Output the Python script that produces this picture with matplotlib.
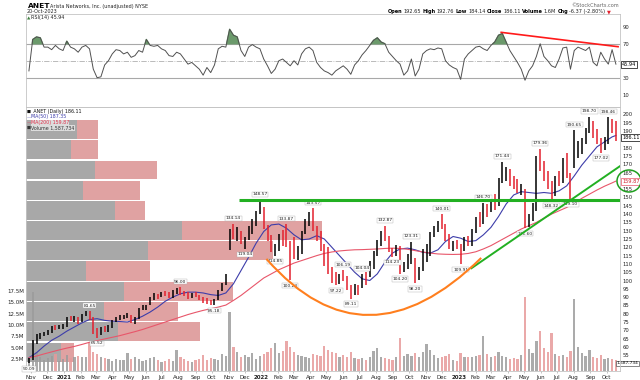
import numpy as np
import pandas as pd
import matplotlib
matplotlib.use("Agg")
import matplotlib.pyplot as plt
import matplotlib.dates as mdates
from matplotlib.path import Path
from matplotlib.patches import PathPatch, Ellipse

plt.rcParams["font.family"] = "DejaVu Sans"

# weekly bars (week ending friday)
weeks = pd.date_range("2020-10-30", "2023-10-20", freq="W-FRI")

high = [53.5, 64.0, 67.5, 68.5, 69.0, 70.0, 72.5, 73.5, 73.0,
        74.0, 78.0, 78.5, 78.5, 78.0, 80.0, 81.5, 81.65, 78.0, 71.5, 72.0, 72.5, 73.0,
        76.0, 78.0, 79.0, 79.5, 80.5, 79.5, 78.0, 83.5, 85.0, 85.5, 90.0, 92.5, 92.0,
        93.0, 93.5, 93.0, 94.0, 95.5, 96.00, 93.5, 93.0, 92.5, 93.0, 91.5, 90.0, 89.5,
        88.0, 89.0, 94.5, 98.5, 104.0, 131.0, 134.14, 132.0, 130.0, 126.0, 133.0, 137.0, 142.0, 148.57,
        144.0, 133.5, 127.5, 122.0, 128.0, 130.5, 133.87, 124.0, 126.0, 121.0, 130.0, 137.0,
        141.0, 143.57, 133.0, 130.0, 122.0, 120.0, 108.0, 105.0, 104.0, 106.19, 103.0, 97.0, 98.0,
        97.5, 104.04, 105.0, 112.0, 118.0, 124.5, 130.0, 132.87, 127.0, 119.5, 121.5, 121.0, 111.0, 116.0,
        123.31, 113.5, 108.0, 119.0, 122.0, 129.0, 133.0, 136.0, 140.01, 134.0, 128.0, 124.0, 124.5,
        122.0, 126.0, 127.0, 131.0, 138.0, 141.0, 146.7, 146.0, 149.5, 152.0, 162.0, 171.44, 168.5,
        167.0, 163.0, 161.0, 158.0, 155.0, 140.0, 146.5, 175.0, 179.36, 172.0, 166.0, 160.0, 163.0,
        166.0, 174.0, 176.5, 165.0, 190.65, 184.0, 186.0, 192.0, 198.70, 196.0, 191.0, 186.0, 186.5,
        198.46, 197.5, 196.0]
low = [50.09, 52.0, 61.5, 65.0, 66.5, 67.0, 68.5, 70.0, 70.5,
       71.0, 72.0, 75.5, 75.0, 74.0, 75.0, 78.5, 76.5, 67.5, 65.52, 67.0, 69.0, 69.0,
       71.5, 75.0, 76.5, 77.0, 77.5, 74.5, 74.0, 77.0, 82.0, 82.5, 85.0, 88.0, 89.0,
       90.0, 90.5, 89.5, 89.5, 92.0, 91.5, 90.5, 89.0, 89.5, 90.0, 88.0, 86.5, 86.0,
       85.5, 85.18, 88.0, 93.5, 97.0, 118.5, 125.0, 124.0, 122.0, 119.04, 124.5, 128.0, 133.0, 140.0,
       131.0, 124.0, 117.0, 114.85, 118.0, 121.0, 120.0, 100.23, 113.0, 112.5, 116.0, 128.0,
       133.0, 130.0, 124.0, 118.0, 109.0, 104.0, 98.5, 97.22, 98.0, 100.0, 94.0, 89.11, 91.0,
       91.5, 95.5, 97.5, 102.0, 107.0, 114.5, 121.0, 124.0, 117.0, 114.23, 114.5, 104.20, 105.0, 107.0,
       110.0, 98.20, 100.5, 106.0, 111.0, 115.0, 126.0, 129.5, 131.0, 124.0, 119.0, 118.0, 119.0,
       109.91, 118.0, 120.5, 121.0, 128.5, 132.0, 134.0, 138.0, 141.0, 142.5, 145.0, 159.0, 160.0,
       157.0, 155.0, 153.0, 151.5, 131.60, 132.5, 136.0, 142.0, 166.0, 160.0, 155.0, 148.32, 151.0,
       157.0, 159.0, 162.0, 149.10, 168.0, 174.0, 176.0, 182.0, 189.0, 186.0, 182.0, 177.02, 178.5,
       182.5, 189.0, 184.14]
close = [52.5, 62.5, 66.0, 67.5, 68.0, 69.0, 72.0, 71.0, 72.5,
         72.5, 77.5, 76.5, 77.0, 75.0, 79.5, 80.5, 77.5, 70.0, 68.5, 70.5, 70.0, 72.0,
         75.5, 77.5, 78.0, 78.5, 79.0, 75.5, 77.0, 83.0, 84.0, 85.0, 89.5, 91.0, 90.5,
         92.0, 91.5, 90.0, 93.5, 94.5, 92.0, 91.5, 90.0, 92.0, 90.5, 88.5, 88.0, 87.0,
         86.5, 88.5, 94.0, 97.5, 103.5, 129.0, 127.0, 128.0, 123.0, 125.0, 132.0, 134.0, 141.5, 143.5,
         132.0, 126.0, 118.0, 120.5, 126.0, 123.0, 122.0, 121.5, 116.0, 116.5, 129.0, 135.5,
         139.5, 131.5, 125.0, 119.0, 115.5, 106.0, 104.5, 99.0, 103.5, 101.5, 95.0, 93.0, 97.5,
         94.0, 103.0, 102.5, 110.0, 116.5, 123.0, 128.5, 126.0, 117.5, 116.0, 120.0, 107.0, 109.0, 112.0,
         113.0, 102.0, 107.0, 118.0, 118.0, 127.5, 131.0, 135.0, 133.0, 126.0, 121.0, 122.0, 121.5,
         119.0, 124.5, 122.0, 129.5, 136.0, 134.5, 145.0, 141.0, 148.0, 145.5, 160.5, 165.0, 167.0,
         159.0, 158.5, 154.5, 157.0, 134.0, 138.5, 144.5, 172.0, 168.5, 163.0, 157.0, 150.5, 162.0,
         160.0, 172.0, 164.0, 155.0, 178.0, 181.0, 184.0, 190.0, 194.0, 188.0, 184.0, 181.0, 183.8,
         194.5, 193.2, 186.11]
volume = [3.0, 17.3, 4.2, 3.0, 2.4, 2.8, 3.2, 3.6, 2.2,
          2.6, 3.4, 2.8, 3.0, 3.2, 2.9, 3.1, 6.2, 4.0, 3.6, 3.0, 2.7, 2.5,
          2.2, 2.6, 2.4, 2.3, 3.8, 2.6, 2.9, 2.5, 2.2, 2.4, 2.7, 3.0, 2.3,
          2.0, 2.2, 2.6, 2.1, 4.6, 3.0, 2.5, 2.2, 2.0, 2.3, 2.6, 3.4, 2.4,
          2.8, 2.5, 2.3, 3.6, 3.2, 12.9, 5.2, 4.0, 3.1, 3.4, 3.0, 3.8, 2.6, 3.2,
          3.6, 4.2, 5.0, 6.0, 3.8, 4.4, 6.5, 5.2, 4.0, 3.5, 3.3, 3.0,
          2.8, 3.6, 3.4, 3.2, 5.5, 4.6, 4.2, 3.8, 3.0, 3.4, 3.1, 4.2, 2.8,
          2.5, 2.7, 2.4, 2.9, 4.3, 5.0, 3.1, 2.8, 2.6, 2.4, 3.0, 7.1, 3.2, 3.6,
          3.3, 3.8, 3.0, 4.0, 5.8, 4.6, 3.4, 2.8, 3.0, 3.3, 3.6, 2.4, 2.2,
          3.8, 2.9, 3.1, 3.0, 3.2, 3.4, 7.5, 3.6, 3.0, 3.2, 4.2, 3.3, 3.0,
          2.6, 2.8, 2.5, 3.4, 16.2, 4.8, 3.9, 6.5, 8.6, 5.0, 4.2, 8.3, 3.6,
          3.2, 3.4, 3.0, 4.4, 15.8, 5.2, 3.8, 3.2, 4.5, 3.0, 2.8, 3.4, 2.6,
          2.8, 2.6, 2.4]
rsi = [38, 75, 78, 77, 66, 66, 63, 68, 64,
       62, 73, 66, 64, 60, 66, 68, 64, 40, 30, 31, 45, 50,
       58, 63, 62, 58, 60, 54, 56, 62, 60, 75, 68, 67, 68,
       64, 62, 56, 55, 60, 58, 52, 46, 48, 44, 40, 33, 42,
       36, 45, 64, 67, 66, 87, 80, 78, 62, 55, 66, 69, 66, 64,
       52, 44, 35, 40, 50, 52, 48, 44, 50, 45, 58, 64,
       66, 62, 48, 42, 38, 36, 33, 38, 41, 44, 40, 34, 45,
       50, 57, 62, 68, 74, 77, 72, 70, 60, 55, 50, 46, 33, 38,
       52, 32, 40, 58, 62, 64, 63, 65, 64, 50, 45, 42, 40,
       28, 52, 58, 62, 66, 67, 64, 62, 68, 72, 80, 82, 72,
       62, 55, 48, 40, 27, 38, 44, 55, 70, 55, 50, 44, 42,
       52, 65, 66, 40, 62, 66, 64, 62, 66, 48, 44, 60, 52,
       46, 63, 45.94]

# moving averages, read every other week (plus the last bar)
ma_dates = list(weeks[::2]) + [weeks[-1]]
ma50 = [53.5, 56.5, 60.5, 64.0, 66.5,
        69.5, 72.0, 74.5, 76.5, 77.0, 76.0, 75.5, 75.3, 75.0, 76.5, 78.5, 81.0, 84.0,
        87.5, 90.0, 92.0, 93.0, 93.0, 92.5, 91.5, 91.0, 92.5, 98.0, 106.0, 114.0, 122.5,
        129.5, 133.5, 134.0, 131.5, 127.5, 124.5, 125.0, 127.0, 125.0, 120.0, 115.0, 110.0, 105.0,
        101.0, 100.0, 104.0, 111.0, 116.5, 119.0, 119.5, 118.5, 117.0, 116.5, 118.5, 123.5, 126.5,
        125.5, 123.5, 124.0, 127.5, 132.0, 138.5, 146.0, 151.5, 153.5, 153.0, 152.5, 153.0, 152.5,
        154.0, 157.0, 163.0, 169.5, 175.0, 180.5, 183.5, 186.5, 187.35]
ma200 = [53.5, 54.5, 55.8, 57.0, 58.2,
         59.3, 60.3, 61.5, 62.8, 63.8, 64.8, 65.8, 66.8, 68.0, 69.2, 70.5, 72.0, 73.5,
         75.0, 76.5, 78.0, 79.5, 80.8, 82.0, 83.0, 84.0, 85.2, 88.0, 91.0, 94.5, 98.0,
         101.5, 104.0, 106.5, 108.5, 110.5, 112.0, 113.5, 115.0, 116.3, 117.2, 117.8, 118.2, 118.5,
         118.6, 118.8, 119.0, 119.3, 119.5, 119.3, 118.8, 118.0, 117.2, 116.5, 116.0, 115.8, 115.7,
         115.8, 116.3, 117.3, 119.0, 121.0, 123.5, 126.0, 128.5, 131.0, 133.0, 135.0, 137.5, 140.0,
         142.0, 144.0, 146.5, 149.5, 152.0, 154.5, 156.8, 158.8, 159.87]

# volume by price (12 zones, bottom to top), up / down volume
vbp_edges = [50.6, 63.0, 75.4, 87.4, 99.6, 112.0, 124.2, 136.3, 148.4, 160.5, 172.6, 184.7, 196.8]
vbp_up = [42, 110, 94, 118, 72, 146, 187, 107, 69, 83, 54, 61]
vbp_down = [16, 99, 89, 130, 77, 151, 168, 36, 68, 74, 33, 26]

# labelled highs / lows (week, kind)
label_weeks = ["2020-10-30", "2021-02-19", "2021-03-05", "2021-08-06", "2021-10-08",
               "2021-11-12", "2021-12-03", "2021-12-31", "2022-01-28", "2022-02-18",
               "2022-02-25", "2022-04-08", "2022-05-20", "2022-06-03", "2022-06-17",
               "2022-07-08", "2022-08-19", "2022-09-02", "2022-09-16", "2022-10-07",
               "2022-10-14", "2022-12-02", "2023-01-06", "2023-02-17", "2023-03-24",
               "2023-05-05", "2023-06-02", "2023-06-23", "2023-07-28", "2023-08-04",
               "2023-09-01", "2023-09-22", "2023-10-06"]
label_kind = ["l", "h", "l", "h", "l", "h", "l", "h", "l", "h", "l", "h", "l", "h", "l",
              "h", "h", "l", "l", "h", "l", "h", "l", "h", "h", "l", "h", "l", "l", "h",
              "h", "l", "h"]

# chart notes drawn by the analyst
support_dates, support_vals = ["2021-11-21", "2023-10-27"], [148.6, 148.6]
trend_dates, trend_vals = ["2023-01-24", "2023-10-27"], [107.4, 169.2]
cup_dates, cup_vals = ["2022-01-10", "2022-07-12", "2023-02-11"], [113.0, 45.1, 113.6]
rsi_line_dates, rsi_line_vals = ["2023-03-20", "2023-10-22"], [83.4, 66.5]

high, low, close = np.array(high), np.array(low), np.array(close)
volume, rsi = np.array(volume), np.array(rsi, dtype=float)

# ---- layout (pixel positions of the original) ----
W, H = 640, 380
fig = plt.figure(figsize=(W / 100, H / 100), dpi=100)


def fx(px):
    return px / W


def fy(py):
    return 1 - py / H


LEFT, RIGHT, TOP, SPLIT, BOTTOM = 26, 620, 14, 107, 371
ax_rsi = fig.add_axes([fx(LEFT), fy(SPLIT), (RIGHT - LEFT) / W, (SPLIT - TOP) / H])
rect = [fx(LEFT), fy(BOTTOM), (RIGHT - LEFT) / W, (BOTTOM - SPLIT) / H]
ax_vbp = fig.add_axes(rect)
ax_vol = fig.add_axes(rect)
ax_px = fig.add_axes(rect)
ax_vol.patch.set_alpha(0)
ax_px.patch.set_alpha(0)

x0 = mdates.date2num(pd.Timestamp("2020-10-22 14:00"))
x1 = mdates.date2num(pd.Timestamp("2023-10-25 14:00"))
xw = mdates.date2num(weeks) - 2  # centre of the week
ma_x = mdates.date2num(pd.DatetimeIndex(ma_dates)) - 2
PLO, PHI = 45.5, 204.5

# volume by price
edges = np.array(vbp_edges)
mid = (edges[:-1] + edges[1:]) / 2
hgt = np.diff(edges) - 0.7
ax_vbp.barh(mid, vbp_up, height=hgt, color="#a8a8a8", linewidth=0)
ax_vbp.barh(mid, vbp_down, height=hgt, left=vbp_up, color="#e0a2a2", linewidth=0)
ax_vbp.set_xlim(0, 713)
ax_vbp.set_ylim(PLO, PHI)
ax_vbp.axis("off")

# volume
up = np.r_[True, close[1:] >= close[:-1]]
ax_vol.bar(xw, volume, width=4.2, color=np.where(up, "#9c9c9c", "#e79a9a"),
           alpha=0.85, linewidth=0)
ax_vol.set_xlim(x0, x1)
ax_vol.set_ylim(-0.07, 57.8)
ax_vol.set_yticks([2.5, 5, 7.5, 10, 12.5, 15, 17.5])
ax_vol.set_yticklabels(["2.5M", "5.0M", "7.5M", "10.0M", "12.5M", "15.0M", "17.5M"])
ax_vol.tick_params(axis="y", labelsize=4, length=0, pad=1.5, labelcolor="#222222")
ax_vol.xaxis.set_visible(False)
for s in ax_vol.spines.values():
    s.set_visible(False)

# price bars and averages
ax_px.vlines(xw[up], low[up], high[up], color="black", lw=1.1, zorder=4)
ax_px.vlines(xw[~up], low[~up], high[~up], color="#e3202d", lw=1.1, zorder=4)
ax_px.plot(ma_x, ma50, color="#3d3daa", lw=0.8, zorder=3)
ax_px.plot(ma_x, ma200, color="#e8566a", lw=0.8, zorder=3)

# high / low labels
week_idx = {d: i for i, d in enumerate(weeks.strftime("%Y-%m-%d"))}
for d, k in zip(label_weeks, label_kind):
    i = week_idx[d]
    v = high[i] if k == "h" else low[i]
    ax_px.annotate(f"{v:.2f}", (xw[i], v), xytext=(0, 2.5 if k == "h" else -2.5),
                   textcoords="offset points", ha="center",
                   va="bottom" if k == "h" else "top", fontsize=3.2, color="#222222",
                   bbox=dict(boxstyle="square,pad=0.15", fc="white", ec="#b0b0b0", lw=0.3),
                   zorder=6, annotation_clip=False)

# analyst lines
ax_px.plot(pd.to_datetime(support_dates), support_vals, color="#22b022", lw=2.2, zorder=7,
           solid_capstyle="butt")
ax_px.plot(pd.to_datetime(trend_dates), trend_vals, color="#22b022", lw=1.4, zorder=7)
cup_x = mdates.date2num(pd.to_datetime(cup_dates))
cup = Path(list(zip(cup_x, cup_vals)), [Path.MOVETO, Path.CURVE3, Path.CURVE3])
ax_px.add_patch(PathPatch(cup, fill=False, ec="#ff7f1e", lw=1.5, zorder=7))

ax_px.set_xlim(x0, x1)
ax_px.set_ylim(PLO, PHI)
ax_px.yaxis.tick_right()
# 50, 160 and 185 sit under the value boxes in the original
price_ticks = [t for t in range(55, 201, 5) if t not in (160, 185)]
ax_px.set_yticks(price_ticks)
ax_px.tick_params(axis="y", labelsize=3.8, length=0, pad=2, labelcolor="#222222")
months = pd.date_range("2020-11-01", "2023-10-01", freq="MS")
ax_px.set_xticks(mdates.date2num(months))
ax_px.set_xticklabels([str(m.year) if m.month == 1 else m.strftime("%b") for m in months])
for lab, m in zip(ax_px.get_xticklabels(), months):
    if m.month == 1:
        lab.set_fontweight("bold")
ax_px.tick_params(axis="x", labelsize=4, length=1.5, width=0.4, color="#999999", pad=1.2,
                  labelcolor="#222222")
for s in ax_px.spines.values():
    s.set_color("#c4c4c4")
    s.set_linewidth(0.6)


# right-hand value boxes
def value_box(ax, txt, v, ec="black", col="black", size=3.6):
    ax.annotate(txt, xy=(1.0, v), xycoords=("axes fraction", "data"), xytext=(1.5, 0),
                textcoords="offset points", ha="left", va="center", fontsize=size, color=col,
                bbox=dict(boxstyle="square,pad=0.2", fc="white", ec=ec, lw=0.5),
                annotation_clip=False, zorder=8)


value_box(ax_px, "186.11", 186.11)
value_box(ax_px, "159.87", 159.87, ec="#e8566a", col="#d0202d")
ax_vol.annotate("1,587,734", xy=(fx(638.5), 1.587734), xycoords=("figure fraction", "data"),
                ha="right", va="center", fontsize=3.1, color="black",
                bbox=dict(boxstyle="square,pad=0.2", fc="white", ec="#555555", lw=0.5),
                annotation_clip=False, zorder=8)
fig.add_artist(Ellipse((fx(629), fy(181)), 24 / W, 22 / H, transform=fig.transFigure,
                       fill=False, ec="#1f9e1f", lw=1.1))

# RSI panel
ax_rsi.plot(xw, rsi, color="#505050", lw=0.7, zorder=3)
ax_rsi.fill_between(xw, rsi, 70, where=rsi > 70, interpolate=True, color="#6b9a6b", zorder=2)
ax_rsi.axhline(70, color="#a8a8a8", lw=0.8, zorder=1)
ax_rsi.axhline(30, color="#a8a8a8", lw=0.8, zorder=1)
ax_rsi.axhline(50, color="#b0b0b0", lw=0.6, ls="-.", zorder=1)
ax_rsi.plot(pd.to_datetime(rsi_line_dates), rsi_line_vals, color="#ff1a1a", lw=1.2, zorder=4)
ax_rsi.set_xlim(x0, x1)
ax_rsi.set_ylim(-4.5, 105)
ax_rsi.set_xticks([])
ax_rsi.yaxis.tick_right()
ax_rsi.set_yticks([10, 30, 70, 90])
ax_rsi.tick_params(axis="y", labelsize=3.8, length=0, pad=2, labelcolor="#222222")
for s in ax_rsi.spines.values():
    s.set_color("#c4c4c4")
    s.set_linewidth(0.6)
value_box(ax_rsi, "45.94", 45.94)

# header and legends
renderer = fig.canvas.get_renderer()


def seq_text(x, y, parts, size):
    for s, bold, col in parts:
        t = fig.text(fx(x), fy(y), s, fontsize=size, fontweight="bold" if bold else "normal",
                     color=col, va="baseline", ha="left")
        x += t.get_window_extent(renderer).width + 1.2


fig.text(fx(28), fy(8), "ANET", fontsize=5.4, fontweight="bold", va="baseline")
fig.text(fx(50), fy(8), "Arista Networks, Inc. (unadjusted) NYSE", fontsize=3.5,
         va="baseline", color="#222222")
fig.text(fx(26.5), fy(13), "20-Oct-2023", fontsize=3.5, va="baseline", color="#222222")
fig.text(fx(619), fy(7), "\u00a9StockCharts.com", fontsize=3.6, ha="right", va="baseline",
         color="#666666")
seq_text(388, 13.2, [("Open", True, "black"), ("192.65", False, "#222222"),
                     ("High", True, "black"), ("192.76", False, "#222222"),
                     ("Low", True, "black"), ("184.14", False, "#222222"),
                     ("Close", True, "black"), ("186.11", False, "#222222"),
                     ("Volume", True, "black"), ("1.6M", False, "#222222"),
                     ("Chg", True, "black"), ("-6.37 (-2.80%)", False, "#222222"),
                     ("\u25bc", False, "#e3202d")], 3.6)

fig.text(fx(27), fy(19.2), "\u25b2", fontsize=3.2, color="#3f7f3f", va="baseline")
fig.text(fx(31), fy(19.2), "RSI(14) 45.94", fontsize=3.5, color="#222222", va="baseline")

legend = [("_ANET (Daily) 186.11", "#111111", "\u25a0"),
          ("MA(50) 187.35", "#3d3daa", "\u2014"),
          ("MA(200) 159.87", "#e0304a", "\u2014"),
          ("Volume 1,587,734", "#333333", "\u25a0")]
for j, (txt, col, mk) in enumerate(legend):
    yy = 112.5 + j * 5.6
    fig.text(fx(27), fy(yy), mk, fontsize=3.0, color=col, va="baseline")
    fig.text(fx(31), fy(yy), txt, fontsize=3.4, color=col, va="baseline",
             bbox=dict(boxstyle="square,pad=0.05", fc="white", ec="none", alpha=0.6))

fig.savefig("out.png", dpi=100, facecolor="white")
